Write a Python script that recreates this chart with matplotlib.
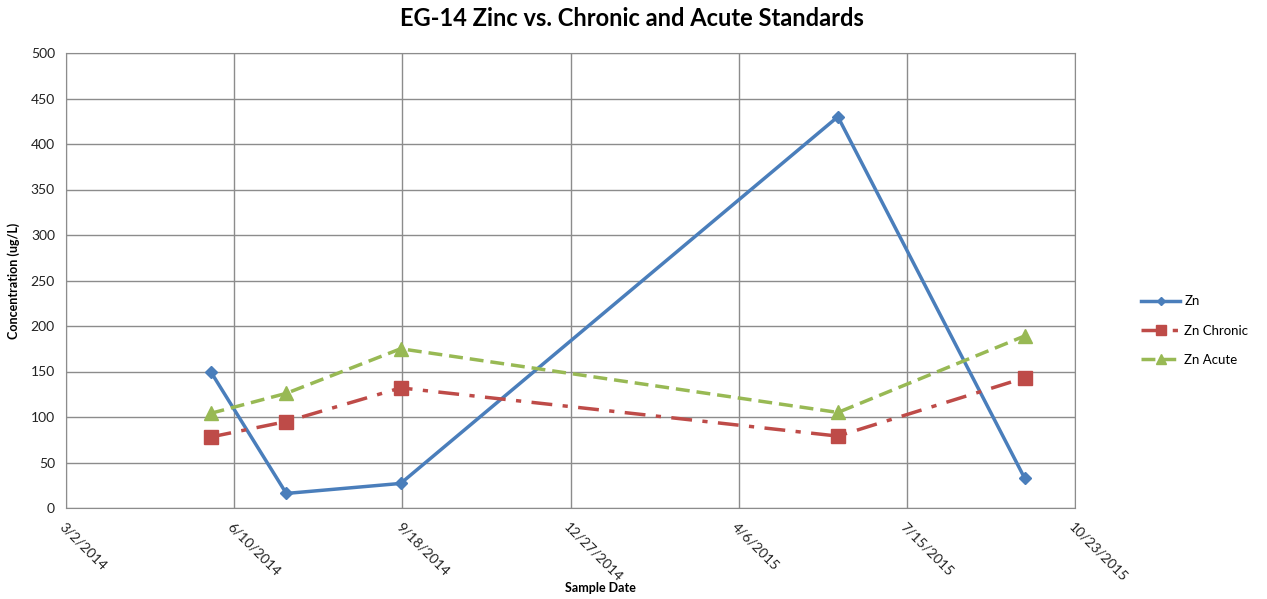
import datetime as dt
import matplotlib
matplotlib.use("Agg")
import matplotlib.pyplot as plt

plt.rcParams['font.family'] = ['Lato', 'DejaVu Sans']

# ------------------ DATA ------------------
sample_dates = [dt.date(2014, 5, 27), dt.date(2014, 7, 11), dt.date(2014, 9, 17),
                dt.date(2015, 6, 4), dt.date(2015, 9, 23)]
zn = [150, 16, 27, 430, 33]
zn_chronic = [78, 95, 132, 79, 143]
zn_acute = [104, 126, 175, 105, 189]

start = dt.date(2014, 3, 2)
tick_dates = [start + dt.timedelta(days=100 * i) for i in range(7)]
tick_labels = [f"{d.month}/{d.day}/{d.year}" for d in tick_dates]

# ------------------ FIGURE ------------------
fig = plt.figure(figsize=(12.67, 5.99), dpi=100)
ax = fig.add_axes([66 / 1267, 1 - 508 / 599, (1075 - 66) / 1267, (508 - 53) / 599])

ax.plot(sample_dates, zn, color="#4a7ebb", lw=2.5, marker="D", ms=6, label="Zn")
ax.plot(sample_dates, zn_chronic, color="#be4b48", lw=2.5, dashes=(6, 3, 1.5, 3),
        marker="s", ms=10, label="Zn Chronic")
ax.plot(sample_dates, zn_acute, color="#98b954", lw=2.5, ls=(0, (4, 2)),
        marker="^", ms=10, label="Zn Acute")

ax.set_xlim(tick_dates[0], tick_dates[-1])
ax.set_ylim(0, 500)
ax.set_xticks(tick_dates)
ax.set_xticklabels(tick_labels, rotation=-45, ha="left", rotation_mode="anchor",
                   fontsize=10, color="#222222")
ax.set_yticks(range(0, 501, 50))
ax.tick_params(axis="y", labelsize=10, length=0, pad=8, colors="#222222")
ax.tick_params(axis="x", length=0, pad=9)
ax.grid(True, color="#8c8c8c", lw=1)
ax.set_axisbelow(True)
for s in ax.spines.values():
    s.set_color("#8c8c8c")

ax.set_ylabel("Concentration (ug/L)", fontsize=9, fontweight="bold", labelpad=8)
fig.text(600 / 1267, 1 - 588 / 599, "Sample Date", ha="center", va="center",
         fontsize=9, fontweight="bold")
fig.text(632 / 1267, 1 - 18 / 599, "EG-14 Zinc vs. Chronic and Acute Standards",
         ha="center", va="center", fontsize=17, fontweight="bold")

ax.legend(loc="center left", bbox_to_anchor=(1.06, 0.39), frameon=False,
          fontsize=9.5, handlelength=3, labelspacing=1.3, markerscale=0.7,
          borderaxespad=0, handletextpad=0.3)

fig.savefig("out.png", dpi=100)
